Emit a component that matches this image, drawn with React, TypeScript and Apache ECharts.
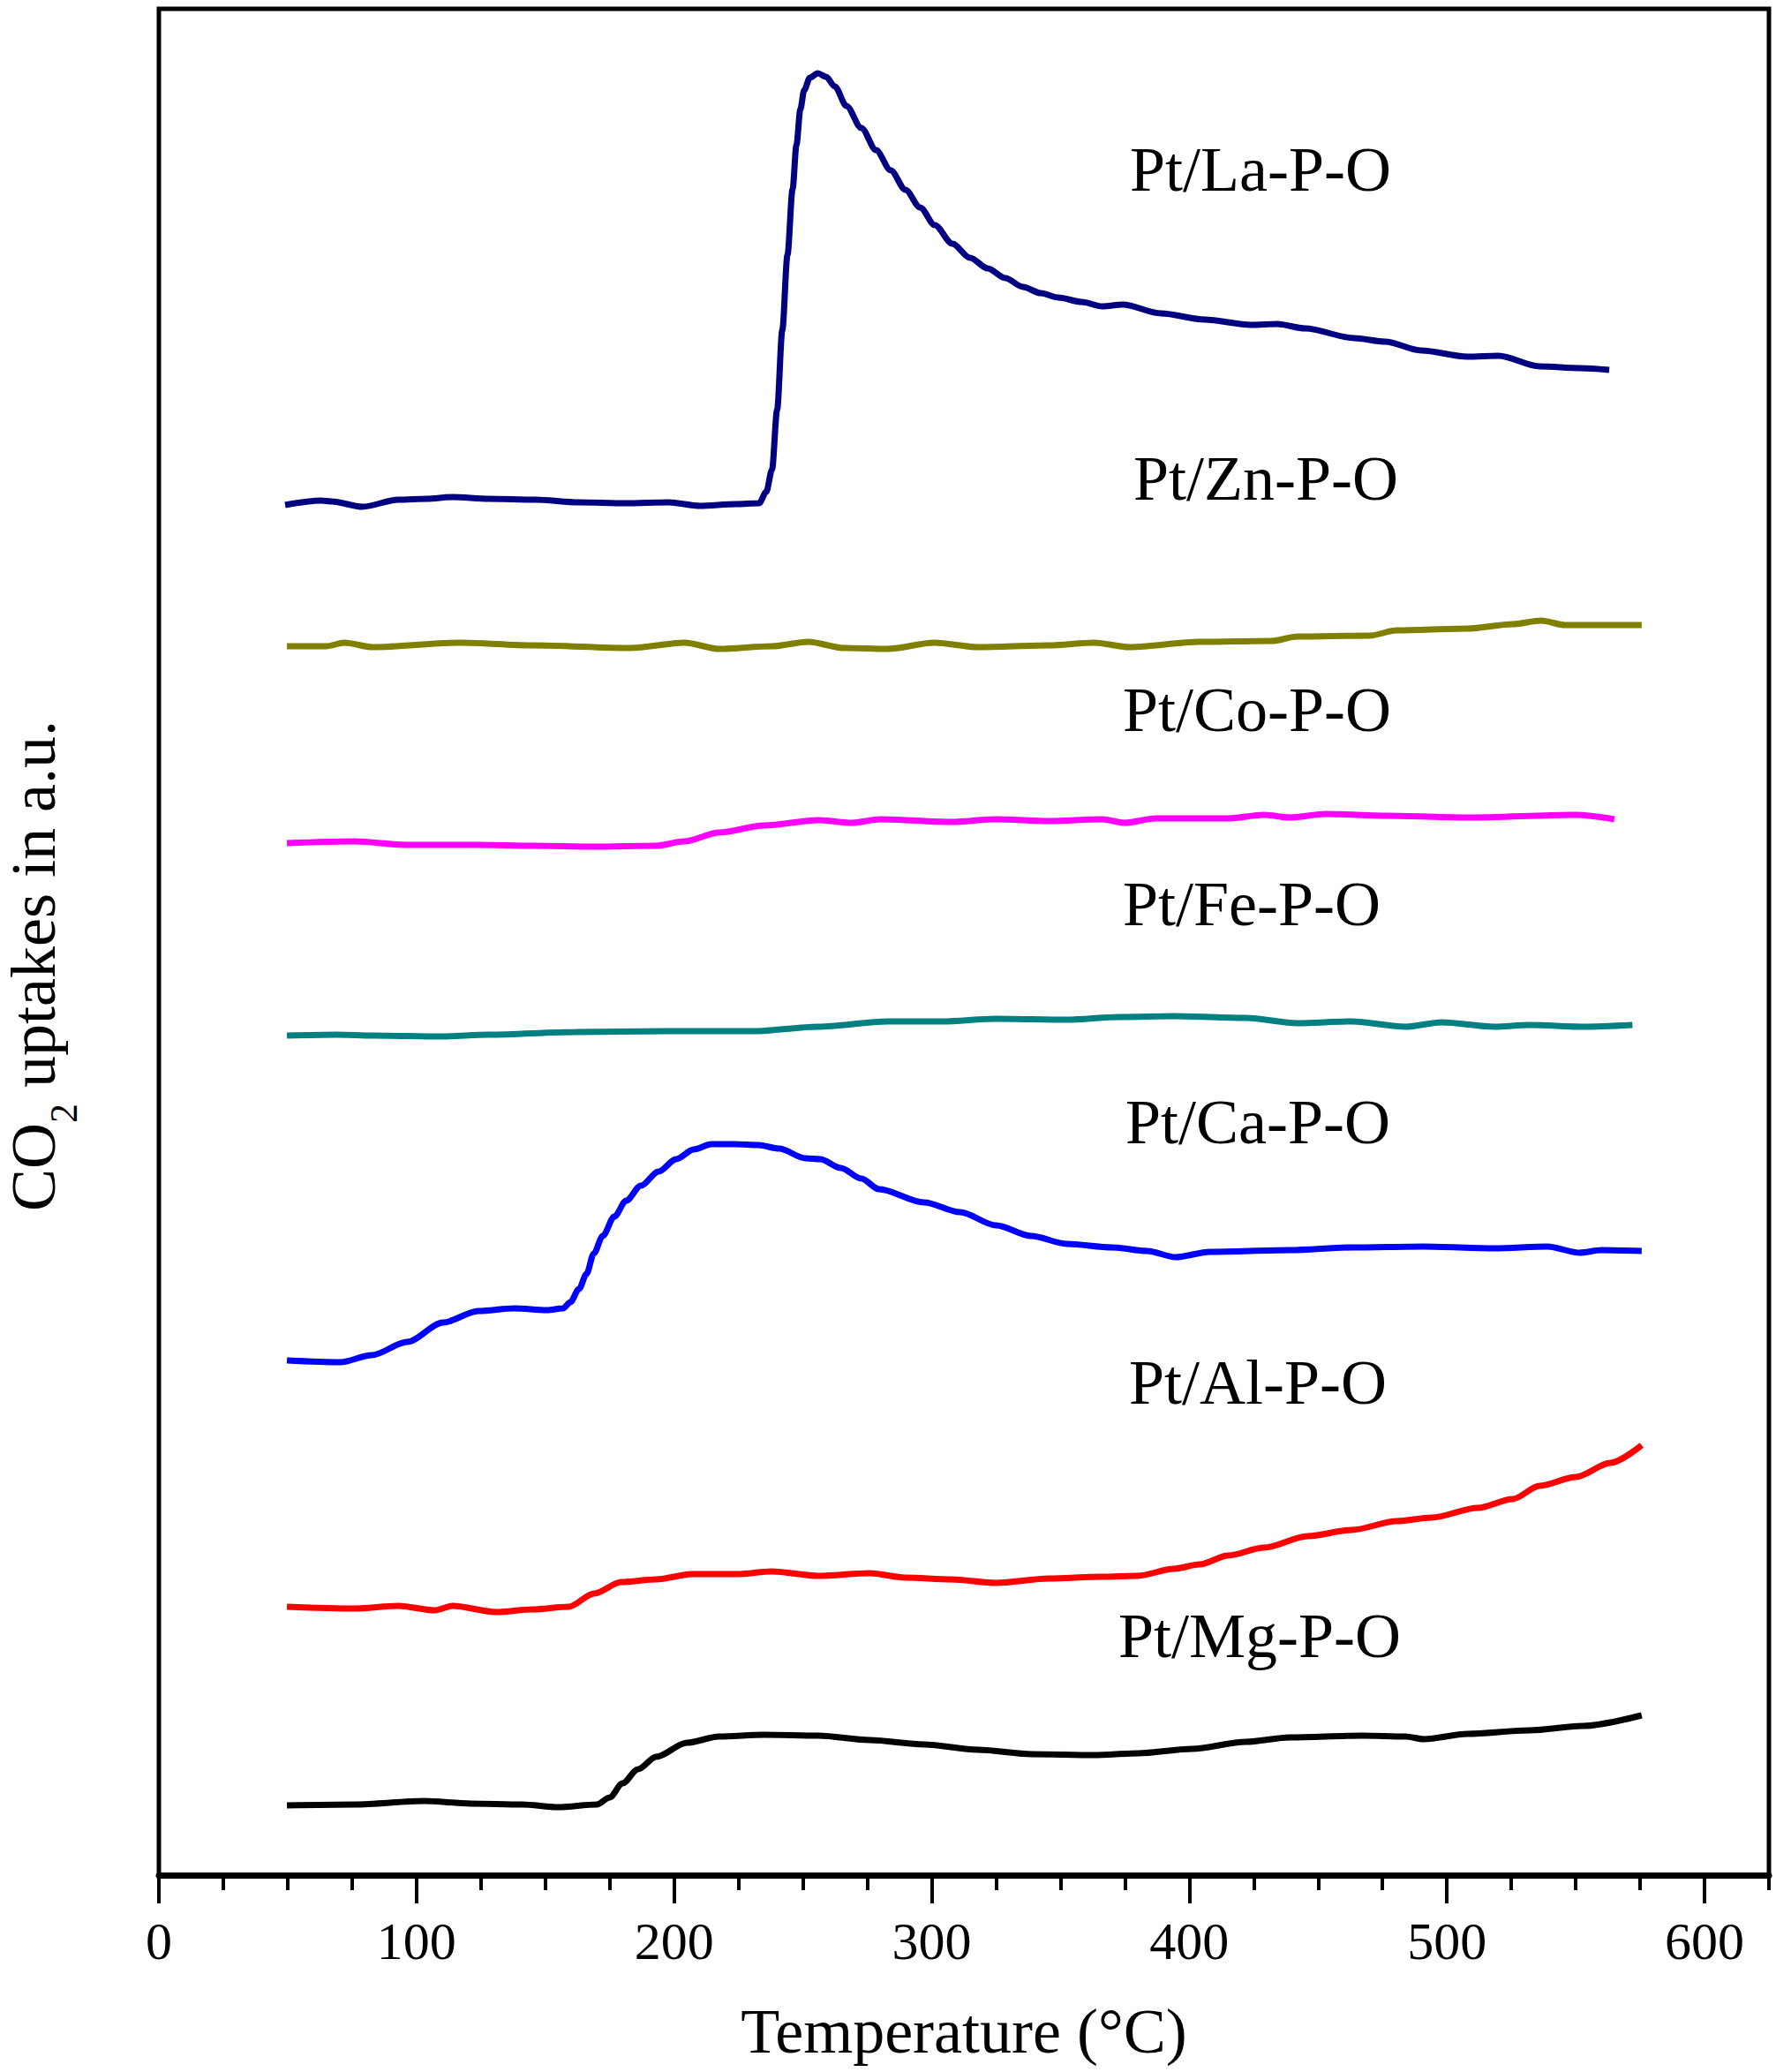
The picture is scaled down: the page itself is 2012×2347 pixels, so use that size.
import { useEffect, useRef } from 'react';
import * as echarts from 'echarts';

// temperature (°C) vs CO2 uptake signal (a.u., curves stacked with offsets)
const laData = [
  [49, 1552], [63, 1557], [67, 1556], [79, 1550], [93, 1558], [104, 1559], [114, 1561], [128, 1559],
  [146, 1558], [163, 1555], [181, 1554], [198, 1555], [210, 1551], [224, 1553], [233, 1554],
  [235.8, 1567], [238, 1592], [240, 1660], [242, 1750], [244, 1835], [246, 1910], [247.5, 1960],
  [249, 2000], [250.5, 2022], [252.7, 2036], [255.8, 2041], [259, 2037], [262.4, 2026],
  [266.9, 2004], [272.7, 1979], [278.4, 1954], [284.1, 1931], [289.8, 1909], [295.5, 1889],
  [301.2, 1869], [308, 1848], [314.9, 1832], [321.7, 1820], [328.6, 1809], [335.4, 1799],
  [342.3, 1792], [349.1, 1787], [358.2, 1782], [366.2, 1777], [374.2, 1779],
  [389, 1769], [406, 1762], [424, 1756], [434, 1757], [445, 1752], [464, 1741],
  [476, 1737], [490, 1727], [508, 1720], [520, 1721], [536, 1709], [552, 1707], [563, 1705],
];

const znData = [
  [49.7, 1392], [65, 1392], [72, 1396], [83, 1391], [117, 1396], [145, 1393], [183, 1390],
  [204, 1396], [217.5, 1389], [238, 1392], [252, 1397], [266, 1390], [283, 1389], [301, 1396],
  [318, 1391], [345.5, 1393], [363, 1396], [377, 1391], [404, 1397], [432, 1398], [442, 1403],
  [470, 1404], [480.5, 1410], [508, 1412], [525.5, 1417], [536.5, 1421], [546, 1416], [575.6, 1416],
];

const coData = [
  [49.7, 1169], [76, 1171], [96, 1167], [124, 1167], [145, 1166], [169, 1165], [193, 1166],
  [204, 1171], [217.5, 1181], [235, 1189], [256, 1195], [269, 1192], [280, 1196], [307.5, 1193],
  [325, 1196], [345.5, 1194], [366, 1196], [375, 1192], [387, 1197], [415, 1197], [429, 1201],
  [439, 1198], [453, 1202], [477, 1200], [508, 1198], [550, 1201], [565, 1196],
];

const feData = [
  [49.7, 951], [69, 952], [83, 951], [110, 950], [128, 952], [162, 955], [197, 956], [231, 956],
  [256, 961], [283, 967], [304, 967], [325, 970], [352.5, 969], [373, 972], [394, 973], [422, 971],
  [442, 965], [463, 967], [484, 961], [498, 966], [518.5, 961], [532, 963], [553, 961], [572, 963],
];

const caData = [
  [49.7, 583], [70.5, 581], [82.6, 589], [96.4, 604], [110.3, 626], [124, 639], [138, 642],
  [150.6, 640], [156.9, 642], [159.7, 649], [163.1, 664], [166, 681], [168.8, 704], [172.3, 724],
  [176.8, 746], [181.4, 764], [187.1, 781], [194, 797], [200.8, 811], [207.6, 822], [214.5, 828],
  [223.6, 828], [232.7, 827], [240.7, 823], [251, 812], [256.7, 811], [264.7, 801], [272.7, 789],
  [279.5, 777], [297, 762], [311, 751], [325, 736], [338.6, 724], [352.5, 715], [370, 711],
  [383.6, 707], [394.7, 700], [408, 706], [439, 708], [463, 711], [491, 712], [518.5, 710],
  [539, 712], [551.4, 705], [560, 708], [575.6, 707],
];

const alData = [
  [49.7, 304], [76, 302], [93, 305], [107, 300], [114, 305], [131, 298], [145, 301], [159, 304],
  [169, 319], [179.5, 332], [193, 335], [207, 341], [224.5, 341], [238, 344], [256, 339],
  [276, 342], [290, 337], [307.5, 335], [325, 331], [345.5, 336], [366, 338], [380, 339],
  [394, 347], [404, 352], [415, 362], [429, 371], [446, 384], [463, 391], [480.5, 401],
  [494, 405], [512, 416], [525.5, 426], [536, 441], [550, 451], [563.5, 467], [575.6, 487],
];

const mgData = [
  [49.7, 79], [76, 80], [103, 84], [121, 81], [141, 80], [155, 77], [170, 80], [175, 88],
  [180, 104], [186, 120], [193, 134], [205, 150], [217.5, 157], [235, 159], [256, 158], [276, 153],
  [297, 148], [318, 142], [339, 137], [363, 136], [380, 138], [401, 143], [422, 151],
  [439, 156], [467, 158], [484, 157], [491, 154], [508, 160], [532, 164], [553, 169], [575.6, 181],
];

const seriesNames = ['Pt/La-P-O', 'Pt/Zn-P-O', 'Pt/Co-P-O', 'Pt/Fe-P-O', 'Pt/Ca-P-O', 'Pt/Al-P-O', 'Pt/Mg-P-O'];
const seriesData = [laData, znData, coData, feData, caData, alData, mgData];
const seriesColors = ['#000080', '#808000', '#ff00ff', '#008080', '#0000ff', '#ff0000', '#000000'];

const FONT = '"Liberation Serif", "Times New Roman", serif';

// where each curve's name sits on the page
const labelPos = [
  [1428, 192], [1434, 542], [1424, 804], [1418, 1024], [1425, 1271], [1425, 1566], [1427, 1853],
];

export default function App() {
  const chartRef = useRef<HTMLDivElement>(null);

  useEffect(() => {
    if (!chartRef.current) return;
    const chart = echarts.init(chartRef.current, undefined, { renderer: 'svg' });

    const option: echarts.EChartsOption = {
      animation: false,
      backgroundColor: '#fff',
      grid: [
        {
          left: 180, right: 8, top: 10, bottom: 223,
          show: true, borderColor: '#000', borderWidth: 5, backgroundColor: 'transparent',
        },
        // same left edge, sized so 0..600 lines up with the main axis (for major ticks)
        { left: 180, right: 80.96, top: 10, bottom: 223 },
      ],
      xAxis: [
        {
          type: 'value',
          gridIndex: 0,
          min: 0,
          max: 625,
          interval: 25,
          axisLine: { show: true, lineStyle: { color: '#000', width: 7 } },
          axisTick: { show: true, length: 17, lineStyle: { color: '#000', width: 4 } },
          axisLabel: {
            margin: 45,
            fontSize: 60,
            fontFamily: FONT,
            color: '#000',
            formatter: (v: number) => (v % 100 === 0 ? String(v) : ''),
          },
          splitLine: { show: false },
          name: 'Temperature (°C)',
          nameLocation: 'middle',
          nameGap: 141,
          nameTextStyle: { fontSize: 72, fontFamily: FONT, color: '#000' },
        },
        {
          type: 'value',
          gridIndex: 1,
          min: 0,
          max: 600,
          interval: 100,
          axisLine: { show: false },
          axisTick: { show: true, length: 32, lineStyle: { color: '#000', width: 4 } },
          axisLabel: { show: false },
          splitLine: { show: false },
        },
      ],
      yAxis: [
        {
          type: 'value',
          gridIndex: 0,
          min: 0,
          max: 2114,
          axisLine: { show: false },
          axisTick: { show: false },
          axisLabel: { show: false },
          splitLine: { show: false },
        },
        {
          type: 'value',
          gridIndex: 1,
          min: 0,
          max: 2114,
          show: false,
        },
      ],
      series: seriesNames.map((name, i) => ({
        name,
        type: 'line',
        xAxisIndex: 0,
        yAxisIndex: 0,
        data: seriesData[i],
        showSymbol: false,
        smooth: 0.3,
        smoothMonotone: 'x',
        lineStyle: { color: seriesColors[i], width: 7 },
        itemStyle: { color: seriesColors[i] },
      })),
      graphic: [
        ...seriesNames.map((name, i) => ({
          type: 'text' as const,
          x: labelPos[i][0],
          y: labelPos[i][1],
          style: {
            text: name,
            fontSize: 72,
            fontFamily: FONT,
            fill: '#000',
            align: 'center',
            verticalAlign: 'middle',
          },
        })),
        {
          type: 'text',
          x: 48,
          y: 1094,
          rotation: Math.PI / 2,
          style: {
            text: '{n|CO}{s|2}{n| uptakes in a.u.}',
            fill: '#000',
            align: 'center',
            verticalAlign: 'middle',
            rich: {
              n: { fontSize: 72, fontFamily: FONT, fill: '#000', verticalAlign: 'top', lineHeight: 72 },
              s: { fontSize: 44, fontFamily: FONT, fill: '#000', verticalAlign: 'bottom', lineHeight: 92 },
            },
          },
        },
      ],
    };

    chart.setOption(option);

    return () => {
      chart.dispose();
    };
  }, []);

  return (
    <div
      ref={chartRef}
      style={{ position: 'absolute', left: 0, top: 0, width: '2012px', height: '2347px', background: '#fff' }}
    />
  );
}
